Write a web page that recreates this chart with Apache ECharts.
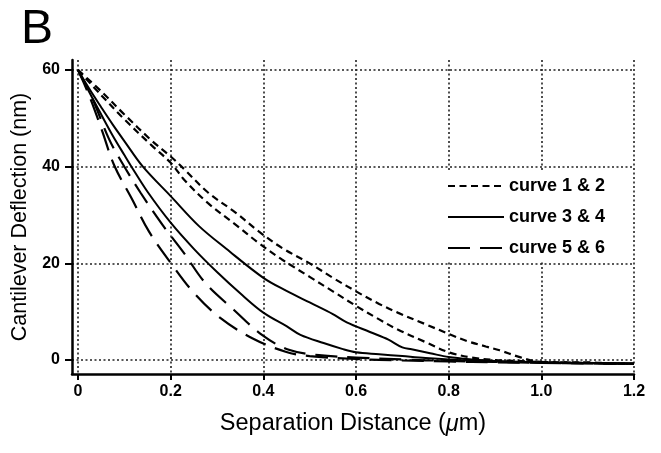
<!DOCTYPE html>
<html><head><meta charset="utf-8">
<script src="https://cdn.jsdelivr.net/npm/echarts@6/dist/echarts.min.js"></script>
<style>html,body{margin:0;padding:0;background:#fff}#c{width:661px;height:453px}</style>
</head><body><div id="c"></div><script>
const xTicks = [0, 0.2, 0.4, 0.6, 0.8, 1.0, 1.2];
const yTicks = [0, 20, 40, 60];
const legendNames = ['curve 1 & 2', 'curve 3 & 4', 'curve 5 & 6'];

const curve1 = [[0,60],[0.05,55.6],[0.1,50.8],[0.16,45.3],[0.2,42.1],[0.23,39.4],[0.28,34.7],[0.34,30.5],[0.39,26.6],[0.44,23.2],[0.5,20],[0.55,17],[0.6,14.2],[0.65,11.6],[0.69,9.8],[0.75,7.4],[0.8,5.4],[0.84,3.9],[0.88,2.8],[0.91,2],[0.95,0.7],[0.99,-0.3],[1.05,-0.5],[1.1,-0.5],[1.15,-0.7],[1.2,-0.8]];
const curve2 = [[0,60],[0.05,54.8],[0.1,49.8],[0.16,44.3],[0.2,40.8],[0.23,37.2],[0.28,32.5],[0.34,28],[0.39,24.2],[0.44,20.8],[0.5,17.2],[0.55,14.2],[0.6,11.2],[0.65,8.4],[0.69,6.3],[0.75,3.7],[0.8,1.6],[0.85,0.5],[0.9,0],[0.95,-0.2],[1.0,-0.4],[1.1,-0.6],[1.2,-0.8]];
const curve3 = [[0,60],[0.025,56],[0.05,52.3],[0.075,48.7],[0.1,45.3],[0.14,40],[0.2,33.9],[0.26,27.8],[0.32,23],[0.4,17],[0.45,14.3],[0.5,11.9],[0.55,9.5],[0.58,7.8],[0.63,5.8],[0.67,4.2],[0.7,2.6],[0.72,2.2],[0.76,1.4],[0.8,0.6],[0.85,0.1],[0.9,-0.2],[1.0,-0.5],[1.1,-0.6],[1.2,-0.7]];
const curve4 = [[0,60],[0.025,55.3],[0.05,50.8],[0.075,46.4],[0.1,42.4],[0.114,40.2],[0.15,34.8],[0.2,28.4],[0.25,23],[0.3,18.2],[0.35,13.8],[0.4,9.8],[0.45,7],[0.48,5.2],[0.53,3.5],[0.57,2.3],[0.6,1.6],[0.65,1.2],[0.7,0.8],[0.75,0.4],[0.8,0.1],[0.9,-0.3],[1.0,-0.5],[1.1,-0.7],[1.2,-0.8]];
const curve5 = [[0,60],[0.015,56.8],[0.031,53],[0.052,47.4],[0.078,40.3],[0.117,33.2],[0.153,26.6],[0.2,20.1],[0.25,13.9],[0.307,8.7],[0.376,4.5],[0.448,1.7],[0.5,0.8],[0.6,0.2],[0.7,-0.1],[0.8,-0.3],[0.9,-0.5],[1.0,-0.6],[1.1,-0.7],[1.2,-0.8]];
const curve6 = [[0,60],[0.03,54.3],[0.067,45.7],[0.095,40.8],[0.135,34.6],[0.182,28],[0.228,22.2],[0.275,15.9],[0.336,10.4],[0.397,5.2],[0.455,2.1],[0.52,1.0],[0.6,0.5],[0.7,0.1],[0.8,-0.2],[0.9,-0.4],[1.0,-0.6],[1.1,-0.7],[1.2,-0.8]];

const F = '"Liberation Sans", Arial, Helvetica, sans-serif';
const SHORT = [7, 4.5], LONG = [22, 10];

function mk(name, data, type, width) {
  return {
    type: 'line', name: name, data: data, symbol: 'none', showSymbol: false,
    smooth: 0.35,
    lineStyle: { color: '#000', width: width, type: type, cap: 'butt' },
    itemStyle: { color: 'rgba(0,0,0,0)', borderWidth: 0 },
    emphasis: { disabled: true }, silent: true, z: 3
  };
}

const chart = echarts.init(document.getElementById('c'), null, { renderer: 'canvas' });
chart.setOption({
  animation: false,
  backgroundColor: '#fff',
  title: { text: 'B', left: 16, top: 1, textStyle: { fontFamily: F, fontSize: 48, fontWeight: 'normal', color: '#000' } },
  grid: { left: 72, right: 27, top: 60, bottom: 79, containLabel: false },
  legend: {
    data: legendNames, orient: 'vertical', left: 440, top: 171,
    padding: [6, 12, 4, 7], backgroundColor: '#fff',
    itemWidth: 56, itemHeight: 14, itemGap: 13,
    itemStyle: { color: 'rgba(0,0,0,0)', borderWidth: 0, borderColor: 'rgba(0,0,0,0)' },
    textStyle: { fontFamily: F, fontSize: 18, fontWeight: 'bold', color: '#000' },
    selectedMode: false
  },
  xAxis: {
    type: 'value', min: -0.013, max: 1.2,
    name: 'Separation Distance ({i|μ}m)', nameLocation: 'middle', nameGap: 38,
    nameTextStyle: { fontFamily: F, fontSize: 23.5, color: '#000',
      rich: { i: { fontFamily: F, fontSize: 23.5, fontStyle: 'italic', color: '#000' } } },
    axisLine: { onZero: false, lineStyle: { color: '#000', width: 2.5 } },
    axisTick: { customValues: xTicks, length: 6, lineStyle: { color: '#000', width: 2 } },
    axisLabel: { customValues: xTicks, margin: 10, fontFamily: F, fontSize: 16, fontWeight: 'bold', color: '#000',
      formatter: function (v) { return v === 0 ? '0' : v.toFixed(1); } },
    splitLine: { show: true, lineStyle: { type: [2, 2.5], width: 1.6, color: '#222' } }
  },
  yAxis: {
    type: 'value', min: -2.9, max: 62.07,
    name: 'Cantilever Deflection (nm)', nameLocation: 'middle', nameGap: 40,
    nameTextStyle: { fontFamily: F, fontSize: 21.5, color: '#000' },
    axisLine: { onZero: false, lineStyle: { color: '#000', width: 2.5 } },
    axisTick: { customValues: yTicks, length: 7, lineStyle: { color: '#000', width: 2 } },
    axisLabel: { customValues: yTicks, margin: 12, fontFamily: F, fontSize: 16, fontWeight: 'bold', color: '#000' },
    splitLine: { show: true, lineStyle: { type: [2, 2.5], width: 1.6, color: '#222' } }
  },
  series: [
    mk(legendNames[0], curve1, SHORT, 2.2),
    mk(legendNames[0], curve2, SHORT, 2.2),
    mk(legendNames[1], curve3, 'solid', 2),
    mk(legendNames[1], curve4, 'solid', 2),
    mk(legendNames[2], curve5, LONG, 2.2),
    mk(legendNames[2], curve6, LONG, 2.2)
  ]
});
</script></body></html>
